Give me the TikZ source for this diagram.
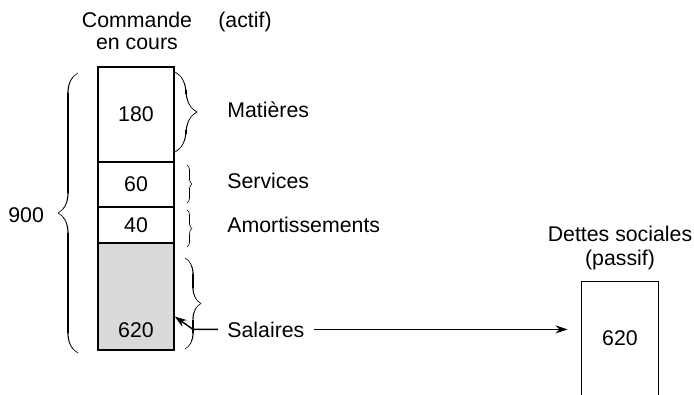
\documentclass[tikz,border=0pt]{standalone}
\usepackage{fontspec}
\setmainfont{Liberation Sans}
\usetikzlibrary{arrows.meta,decorations.pathreplacing,calligraphy}
\begin{document}
\begin{tikzpicture}[x=0.5pt,y=-0.5pt,
  font=\fontsize{10.65pt}{13pt}\selectfont,
  cell/.style={draw, line width=0.7pt, minimum width=38pt, inner sep=0pt},
  lbl/.style={inner sep=0pt, anchor=base west},
  ctr/.style={inner sep=0pt, anchor=base},
  brc/.style={decorate, decoration={calligraphic brace, amplitude=#1}, line width=0.6pt},
  link/.style={line width=0.7pt, -{Stealth[length=6pt,width=4pt]}}]
\useasboundingbox (0,0) rectangle (694,395);

% cost column of the order in progress
\node[cell, minimum height=47.5pt] (c180) at (136,114.5) {180};
\node[cell, minimum height=22.5pt] (c60) at (136,184.5) {60};
\node[cell, minimum height=18pt] (c40) at (136,225) {40};
\node[cell, fill=black!15, minimum height=53.5pt] (c620) at (136,296.5) {};
\node[ctr] (v620) at (136,337) {620};

% headings
\node[ctr] (cmd) at (137,28) {Commande};
\node[ctr] (cours) at (137,50) {en cours};
\node[lbl] (actif) at (218,28) {(actif)};

% cost labels
\node[lbl] (mat) at (227,118) {Matières};
\node[lbl] (serv) at (227,188) {Services};
\node[lbl] (amort) at (227,232) {Amortissements};
\node[lbl] (sal) at (227,337) {Salaires};
\node[lbl] (tot) at (8,222) {900};

% liability account, open at the bottom
\node[ctr] (dettes) at (620,241) {Dettes sociales};
\node[ctr] (passif) at (620,265) {(passif)};
\node[minimum width=38pt, minimum height=56.5pt, inner sep=0pt] (dbox) at (620,338.5) {620};
\draw[line width=0.7pt] (dbox.south west) -- (dbox.north west) -- (dbox.north east) -- (dbox.south east);

% braces
\draw[brc=10pt] (78,353) -- (78,73);
\draw[brc=11pt] (175,72) -- (175,152);
\draw[brc=2.5pt, line width=0.4pt] (187,165) -- (187,203);
\draw[brc=2.5pt, line width=0.4pt] (187,210) -- (187,247);
\draw[brc=8pt] (185,258) -- (185,349);

% arrows
\coordinate (bend) at (193,332);
\draw[link, shorten <=4.5pt, shorten >=7pt] (sal.east) -- (dbox.west |- sal.east);
\draw[link] ([xshift=-4.5pt]sal.west) -- (bend |- sal.west) -- ([yshift=-10pt]c620.east);
\end{tikzpicture}
\end{document}
